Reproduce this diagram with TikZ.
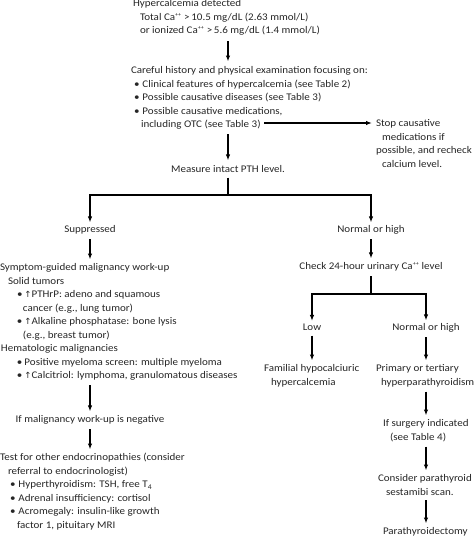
\documentclass[tikz,border=0pt]{standalone}
\usepackage{fontspec}
\setmainfont{Carlito}[FakeStretch=1.08]
\newfontfamily\symfont{DejaVu Sans}
\usetikzlibrary{arrows.meta,calc}
\newcommand{\uparr}{{\symfont\fontsize{8.5}{8.5}\selectfont↑}}
\newcommand{\capp}{Ca\textsuperscript{\fontsize{5.5}{5.5}\selectfont ++}}
\tikzset{
  txt/.style={inner sep=0pt, outer sep=0pt, align=left, anchor=north west, font=\fontsize{10.2}{13.5}\selectfont, text=black!85},
  ctxt/.style={inner sep=0pt, outer sep=0pt, anchor=base, font=\fontsize{10.2}{13.5}\selectfont, text=black!85},
  ln/.style={line width=1.2pt, black},
  arr/.style={ln, -{Latex[length=6pt,width=4.5pt]}},
}
\begin{document}
\begin{tikzpicture}[x=1pt,y=-1pt]
\useasboundingbox (0,0) rectangle (474,538);
% columns
\coordinate (colA) at (228,0);
\coordinate (br1) at (228,195);
\coordinate (br2) at (371,294);
\coordinate (otc) at (264,123);

\node[txt] (hyp) at (133,-0.5) {Hypercalcemia detected\\
\hspace*{7pt}Total \capp{} >\,10.5 mg/dL (2.63 mmol/L)\\
\hspace*{7pt}or ionized \capp{} >\,5.6 mg/dL (1.4 mmol/L)};

\node[txt] (care) at (131,66.5) {Careful history and physical examination focusing on:\\
\hspace*{3pt}\textbullet\hspace{3pt}Clinical features of hypercalcemia (see Table 2)\\
\hspace*{3pt}\textbullet\hspace{3pt}Possible causative diseases (see Table 3)\\
\hspace*{3pt}\textbullet\hspace{3pt}Possible causative medications,\\
\hspace*{10pt}including OTC (see Table 3)};

\node[txt] (stop) at (376,119.5) {Stop causative\\
\hspace*{6pt}medications if\\
possible, and recheck\\
\hspace*{6pt}calcium level.};

\node[ctxt] (pth) at (228,172.5) {Measure intact PTH level.};

\node[ctxt] (supp) at (90,232.5) {Suppressed};
\node[ctxt] (norm1) at (371,232.5) {Normal or high};

\node[txt] (mal) at (0,263.5) {Symptom-guided malignancy work-up\\
\hspace*{8pt}Solid tumors\\
\hspace*{17pt}\textbullet\hspace{2pt}\uparr PTHrP: adeno and squamous\\
\hspace*{23pt}cancer (e.g., lung tumor)\\
\hspace*{17pt}\textbullet\hspace{2pt}\uparr Alkaline phosphatase: bone lysis\\
\hspace*{23pt}(e.g., breast tumor)\\
\hspace*{1pt}Hematologic malignancies\\
\hspace*{17pt}\textbullet\hspace{2pt}Positive myeloma screen: multiple myeloma\\
\hspace*{17pt}\textbullet\hspace{2pt}\uparr Calcitriol: lymphoma, granulomatous diseases};

\node[ctxt] (neg) at (90,422.5) {If malignancy work-up is negative};

\node[txt] (endo) at (0,453.5) {Test for other endocrinopathies (consider\\
\hspace*{8pt}referral to endocrinologist)\\
\hspace*{10pt}\textbullet\hspace{3pt}Hyperthyroidism: TSH, free T\textsubscript{4}\\
\hspace*{10pt}\textbullet\hspace{3pt}Adrenal insufficiency: cortisol\\
\hspace*{10pt}\textbullet\hspace{3pt}Acromegaly: insulin-like growth\\
\hspace*{17pt}factor 1, pituitary MRI};

\node[ctxt] (urin) at (371,269.5) {Check 24-hour urinary \capp{} level};
\node[ctxt] (low) at (312,330.5) {Low};
\node[ctxt] (norm2) at (426,330.5) {Normal or high};

\node[txt] (fam) at (264,364.5) {Familial hypocalciuric\\
\hspace*{7pt}hypercalcemia};
\node[txt] (prim) at (376,364.5) {Primary or tertiary\\
\hspace*{5pt}hyperparathyroidism};
\node[txt] (surg) at (383,419.5) {If surgery indicated\\
\hspace*{7pt}(see Table 4)};
\node[txt] (sest) at (378,474.5) {Consider parathyroid\\
\hspace*{8pt}sestamibi scan.};
\node[txt] (ptx) at (383,527.5) {Parathyroidectomy};

% connectors
\draw[arr, shorten <=6pt, shorten >=5pt] (hyp.south -| colA) -- (care.north -| colA);
\draw[arr, shorten >=4pt] (otc) -- (stop.west |- otc);
\draw[arr, shorten <=5pt, shorten >=5pt] (care.south -| colA) -- (pth.north -| colA);
\draw[ln, shorten <=5pt] (pth.south -| colA) -- (br1);
\draw[arr, shorten >=3pt] (br1) -| (supp.north);
\draw[arr, shorten >=3pt] (br1) -| (norm1.north);
\draw[arr, shorten <=5pt, shorten >=4pt] (supp.south) -- (mal.north -| supp.south);
\draw[arr, shorten <=5pt, shorten >=4pt] (mal.south -| neg.north) -- (neg.north);
\draw[arr, shorten <=5pt, shorten >=4pt] (neg.south) -- (endo.north -| neg.south);
\draw[arr, shorten <=5pt, shorten >=4pt] (norm1.south) -- (urin.north);
\draw[ln, shorten <=5pt] (urin.south) -- (br2);
\draw[arr, shorten >=3pt] (br2) -| (low.north);
\draw[arr, shorten >=3pt] (br2) -| (norm2.north);
\draw[arr, shorten <=5pt, shorten >=4pt] (low.south) -- (fam.north -| low.south);
\draw[arr, shorten <=5pt, shorten >=4pt] (norm2.south) -- (prim.north -| norm2.south);
\draw[arr, shorten <=5pt, shorten >=4pt] (prim.south -| norm2.south) -- (surg.north -| norm2.south);
\draw[arr, shorten <=5pt, shorten >=4pt] (surg.south -| norm2.south) -- (sest.north -| norm2.south);
\draw[arr, shorten <=5pt, shorten >=4pt] (sest.south -| norm2.south) -- (ptx.north -| norm2.south);
\end{tikzpicture}
\end{document}
